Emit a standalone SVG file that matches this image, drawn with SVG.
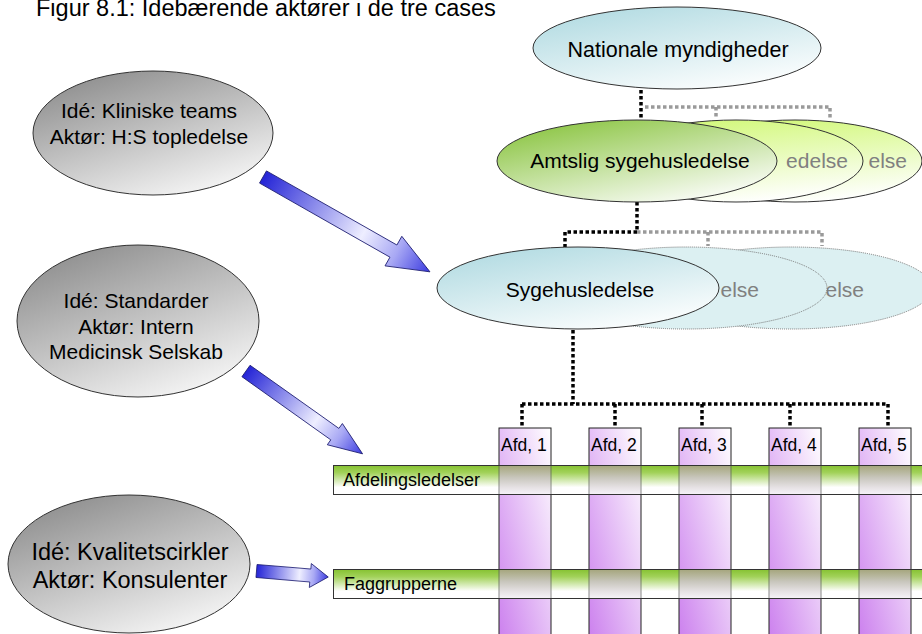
<svg xmlns="http://www.w3.org/2000/svg" width="922" height="634" viewBox="0 0 922 634">
<defs>
<linearGradient id="gGray" x1="0.15" y1="0" x2="0.75" y2="1">
<stop offset="0" stop-color="#8a8a8a"/><stop offset="1" stop-color="#f7f7f7"/>
</linearGradient>
<linearGradient id="gCyan" x1="0.2" y1="0" x2="0.8" y2="1">
<stop offset="0" stop-color="#b2dbe2"/><stop offset="1" stop-color="#ffffff"/>
</linearGradient>
<linearGradient id="gGreen" x1="0.1" y1="0" x2="0.8" y2="1">
<stop offset="0" stop-color="#86c23a"/><stop offset="1" stop-color="#ffffff"/>
</linearGradient>
<linearGradient id="gLime" x1="0.3" y1="0" x2="0.6" y2="1">
<stop offset="0" stop-color="#d2f87a"/><stop offset="1" stop-color="#ffffff"/>
</linearGradient>
<linearGradient id="gBar" x1="0" y1="0" x2="0" y2="1">
<stop offset="0" stop-color="#86c232"/><stop offset="0.25" stop-color="#a2d25a"/><stop offset="0.75" stop-color="#ffffff"/>
</linearGradient>
<linearGradient id="gCol" x1="0" y1="1" x2="1" y2="0">
<stop offset="0" stop-color="#cc80ee"/><stop offset="1" stop-color="#ffffff"/>
</linearGradient>
<linearGradient id="gOvl" x1="0" y1="0" x2="0" y2="1">
<stop offset="0" stop-color="#aaa488"/><stop offset="0.4" stop-color="#c8c2c0"/><stop offset="1" stop-color="#f4f0f6"/>
</linearGradient>
<linearGradient id="gArrow" x1="0" y1="0" x2="1" y2="0">
<stop offset="0" stop-color="#2424d6"/><stop offset="0.6" stop-color="#eeeeff"/><stop offset="0.8" stop-color="#a8a8f4"/><stop offset="1" stop-color="#3a3ae0"/>
</linearGradient>
</defs>
<style>
text{font-family:"Liberation Sans",Arial,sans-serif;fill:#000}
.actor{fill:url(#gGray);stroke:#333;stroke-width:1}
.at{font-size:21px;text-anchor:middle}
.back{fill:#808080;font-size:21px;text-anchor:end}
.mid{text-anchor:middle;font-size:21px}
.dot{fill:none;stroke:#000;stroke-width:3.5;stroke-dasharray:3.5 2.5}
.gdot{fill:none;stroke:#9a9a9a;stroke-width:3.5;stroke-dasharray:3.5 2.5}
.col{fill:url(#gCol);stroke:#222;stroke-width:1}
.ovl{fill:url(#gOvl);opacity:0.9}
.bar{fill:url(#gBar);stroke:#333;stroke-width:1}
.arrow{fill:url(#gArrow);stroke:#1c1c70;stroke-width:0.8}
.lbl{font-size:17.5px}
.bl{font-size:18px}
</style>
<rect width="922" height="634" fill="#fff"/>
<text id="title" x="36" y="16" style="font-size:23.5px">Figur 8.1: Idebærende aktører i de tre cases</text>

<g id="connectors">
<path class="gdot" d="M645,107 H830 V119 M716,107 V119"/>
<path class="gdot" d="M637,232 H822 V246 M708,232 V246"/>
<path class="dot" d="M641,90 V120"/>
<path class="dot" d="M637,202 V232 H565 V247"/>
<path class="dot" d="M573,330 V404 M522,404 H888 M522,404 V428 M615,404 V428 M702,404 V428 M790,404 V428 M888,404 V428"/>
</g>

<g id="nationale">
<ellipse cx="677" cy="48" rx="144" ry="41" fill="url(#gCyan)" stroke="#333" stroke-width="1"/>
<text class="mid" x="678" y="57" style="font-size:21.5px">Nationale myndigheder</text>
</g>

<g id="amtslig">
<ellipse cx="795" cy="161" rx="127" ry="41" fill="url(#gLime)" stroke="#333" stroke-width="1"/>
<text class="back" x="907" y="168">else</text>
<ellipse cx="736" cy="161" rx="127" ry="41" fill="url(#gLime)" stroke="#333" stroke-width="1"/>
<text class="back" x="848" y="168">edelse</text>
<ellipse cx="637" cy="161" rx="140" ry="41" fill="url(#gGreen)" stroke="#333" stroke-width="1"/>
<text class="mid" x="640" y="168">Amtslig sygehusledelse</text>
</g>

<g id="sygehus">
<ellipse cx="791" cy="288" rx="141" ry="41" fill="#dcf0f2" stroke="#777" stroke-width="1" stroke-dasharray="1 1"/>
<text class="back" x="864" y="297">else</text>
<ellipse cx="686" cy="288" rx="141" ry="41" fill="#dcf0f2" stroke="#777" stroke-width="1" stroke-dasharray="1 1"/>
<text class="back" x="759" y="297">else</text>
<ellipse cx="578" cy="288" rx="141" ry="41" fill="url(#gCyan)" stroke="#333" stroke-width="1"/>
<text class="mid" x="580" y="297">Sygehusledelse</text>
</g>

<g id="afdelinger">
<rect class="col" x="499" y="428" width="52" height="212"/>
<rect class="col" x="589" y="428" width="52" height="212"/>
<rect class="col" x="679" y="428" width="52" height="212"/>
<rect class="col" x="769" y="428" width="52" height="212"/>
<rect class="col" x="859" y="428" width="52" height="212"/>
<text class="lbl" x="501" y="451">Afd, 1</text>
<text class="lbl" x="591" y="451">Afd, 2</text>
<text class="lbl" x="681" y="451">Afd, 3</text>
<text class="lbl" x="771" y="451">Afd, 4</text>
<text class="lbl" x="861" y="451">Afd, 5</text>
</g>

<g id="afdelingsledelser">
<rect class="bar" x="333.5" y="465.5" width="600" height="29"/>
<rect class="ovl" x="499.5" y="466" width="51" height="28"/>
<rect class="ovl" x="589.5" y="466" width="51" height="28"/>
<rect class="ovl" x="679.5" y="466" width="51" height="28"/>
<rect class="ovl" x="769.5" y="466" width="51" height="28"/>
<rect class="ovl" x="859.5" y="466" width="51" height="28"/>
<path d="M499,466 V494 M551,466 V494 M589,466 V494 M641,466 V494 M679,466 V494 M731,466 V494 M769,466 V494 M821,466 V494 M859,466 V494 M911,466 V494" stroke="#555" stroke-width="1" fill="none" opacity="0.7"/>
<text class="bl" x="343" y="486">Afdelingsledelser</text>
</g>

<g id="faggrupperne">
<rect class="bar" x="333.5" y="569.5" width="600" height="29"/>
<rect class="ovl" x="499.5" y="570" width="51" height="28"/>
<rect class="ovl" x="589.5" y="570" width="51" height="28"/>
<rect class="ovl" x="679.5" y="570" width="51" height="28"/>
<rect class="ovl" x="769.5" y="570" width="51" height="28"/>
<rect class="ovl" x="859.5" y="570" width="51" height="28"/>
<path d="M499,570 V598 M551,570 V598 M589,570 V598 M641,570 V598 M679,570 V598 M731,570 V598 M769,570 V598 M821,570 V598 M859,570 V598 M911,570 V598" stroke="#555" stroke-width="1" fill="none" opacity="0.7"/>
<text class="bl" x="344" y="590">Faggrupperne</text>
</g>

<g id="actor1">
<ellipse class="actor" cx="153" cy="133" rx="120" ry="62"/>
<text class="at" x="149" y="118">Idé: Kliniske teams</text>
<text class="at" x="149" y="144">Aktør: H:S topledelse</text>
</g>

<g id="actor2">
<ellipse class="actor" cx="138" cy="321" rx="121" ry="76"/>
<text class="at" x="136" y="308">Idé: Standarder</text>
<text class="at" x="136" y="334">Aktør: Intern</text>
<text class="at" x="136" y="359">Medicinsk Selskab</text>
</g>

<g id="actor3">
<ellipse class="actor" cx="129" cy="564" rx="121" ry="69"/>
<text class="at" x="130" y="560" style="font-size:23.5px">Idé: Kvalitetscirkler</text>
<text class="at" x="130" y="588" style="font-size:23.5px">Aktør: Konsulenter</text>
</g>

<g id="arrows">
<polygon class="arrow" transform="translate(263,177) rotate(29.6)" points="0,-7 150,-7 150,-17 192,0 150,17 150,7 0,7"/>
<polygon class="arrow" transform="translate(246,371) rotate(35.4)" points="0,-7 109,-7 109,-13 143,0 109,13 109,7 0,7"/>
<polygon class="arrow" transform="translate(256.5,571) rotate(4.8)" points="0,-6.5 54,-6.5 54,-12 72,0 54,12 54,6.5 0,6.5"/>
</g>
</svg>
